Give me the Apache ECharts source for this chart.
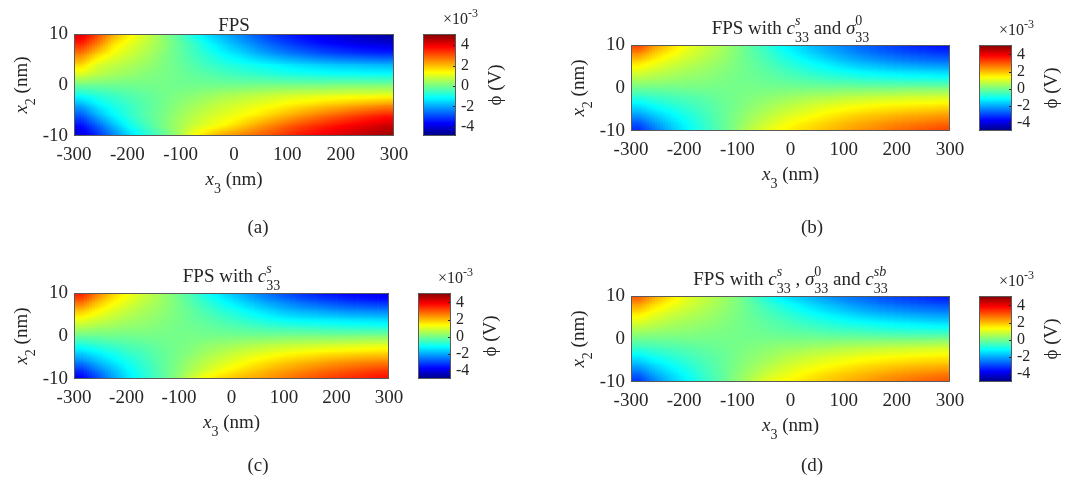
<!DOCTYPE html>
<html>
<head>
<meta charset="utf-8">
<script src="https://cdn.jsdelivr.net/npm/echarts@6/dist/echarts.min.js"></script>
<style>
  html, body { margin: 0; padding: 0; background: #ffffff; }
  #chart { width: 1069px; height: 491px; }
</style>
</head>
<body>
<div id="chart"></div>
<script>
// Sample columns along x3 (nm), 30 nm apart
const X3_CENTERS = [-285, -255, -225, -195, -165, -135, -105, -75, -45, -15,
                    15, 45, 75, 105, 135, 165, 195, 225, 255, 285];
// Sample rows along x2 (nm), top to bottom
const X2_NODES = [10, 8, 6, 4, 2, 0, -2, -4, -6, -8, -10];

const X3_TICKS = [-300, -200, -100, 0, 100, 200, 300];
const X2_TICKS = [-10, 0, 10];
const CBAR_TICKS = [-4, -2, 0, 2, 4];
const PHI_MIN = -4.9;   // colour axis limits, x 1e-3 V
const PHI_MAX = 5.1;

// phi (x 1e-3 V); one row per X2_NODES entry, one value per X3_CENTERS entry
const PHI_FPS = [
  [4.2, 3.2, 2.2, 1.5, 0.9, 0.3, -0.3, -1.0, -1.6, -2.0, -2.4, -2.8, -3.2, -3.45, -3.7, -3.9, -4.1, -4.3, -4.45, -4.65],
  [3.5, 2.6, 1.6, 1.1, 0.75, 0.35, -0.15, -0.6, -1.15, -1.6, -2.0, -2.4, -2.75, -3.05, -3.3, -3.5, -3.65, -3.8, -3.9, -4.0],
  [2.6, 1.75, 1.2, 0.85, 0.55, 0.2, -0.15, -0.5, -0.85, -1.2, -1.5, -1.85, -2.15, -2.4, -2.6, -2.8, -2.95, -3.05, -3.15, -3.2],
  [1.75, 1.0, 0.75, 0.55, 0.35, 0.1, -0.1, -0.35, -0.6, -0.8, -0.95, -1.1, -1.25, -1.4, -1.55, -1.65, -1.75, -1.8, -1.85, -1.9],
  [0.95, 0.65, 0.45, 0.3, 0.15, 0.05, -0.05, -0.2, -0.3, -0.45, -0.55, -0.65, -0.75, -0.85, -0.9, -0.95, -1.0, -1.0, -1.05, -1.05],
  [-0.05, -0.05, -0.05, -0.05, 0.0, 0.0, -0.05, -0.05, -0.05, -0.05, -0.05, 0.0, 0.0, 0.0, 0.0, 0.0, 0.05, 0.05, 0.05, 0.05],
  [-1.0, -0.75, -0.55, -0.35, -0.2, -0.05, 0.1, 0.2, 0.35, 0.5, 0.6, 0.7, 0.8, 0.9, 0.95, 1.0, 1.05, 1.1, 1.1, 1.15],
  [-1.95, -1.3, -0.9, -0.6, -0.3, -0.05, 0.2, 0.45, 0.65, 0.85, 1.0, 1.15, 1.3, 1.5, 1.65, 1.85, 2.0, 2.15, 2.3, 2.45],
  [-2.8, -1.9, -1.2, -0.7, -0.3, 0.0, 0.35, 0.65, 0.9, 1.1, 1.3, 1.55, 1.85, 2.15, 2.45, 2.7, 2.95, 3.2, 3.4, 3.6],
  [-3.55, -2.7, -1.8, -1.05, -0.5, 0.0, 0.45, 0.85, 1.15, 1.45, 1.85, 2.25, 2.6, 2.95, 3.25, 3.5, 3.75, 3.95, 4.15, 4.35],
  [-4.0, -3.3, -2.4, -1.55, -0.9, -0.3, 0.4, 1.3, 1.9, 2.35, 2.6, 2.9, 3.2, 3.55, 3.8, 4.0, 4.2, 4.4, 4.6, 4.8]
];
const PHI_CS_SIGMA = [
  [3.3, 2.4, 1.8, 1.2, 0.9, 0.6, 0.2, -0.25, -0.7, -1.2, -1.5, -1.9, -2.15, -2.4, -2.7, -2.9, -3.1, -3.3, -3.45, -3.6],
  [2.5, 1.85, 1.4, 1.05, 0.75, 0.5, 0.15, -0.2, -0.55, -0.95, -1.3, -1.6, -1.9, -2.15, -2.4, -2.6, -2.75, -2.9, -3.0, -3.1],
  [1.7, 1.3, 1.0, 0.75, 0.55, 0.35, 0.1, -0.15, -0.4, -0.7, -0.95, -1.2, -1.45, -1.7, -1.9, -2.05, -2.2, -2.3, -2.4, -2.45],
  [1.1, 0.85, 0.65, 0.5, 0.35, 0.2, 0.05, -0.1, -0.25, -0.45, -0.65, -0.85, -1.0, -1.15, -1.3, -1.4, -1.5, -1.55, -1.6, -1.65],
  [0.55, 0.45, 0.35, 0.25, 0.2, 0.1, 0.0, -0.05, -0.15, -0.25, -0.35, -0.45, -0.55, -0.6, -0.7, -0.75, -0.8, -0.85, -0.85, -0.9],
  [-0.05, -0.05, -0.05, 0.0, 0.0, 0.0, 0.0, 0.0, 0.0, 0.0, 0.0, 0.0, 0.0, 0.0, 0.0, 0.0, 0.0, 0.05, 0.05, 0.05],
  [-0.7, -0.55, -0.45, -0.35, -0.25, -0.1, 0.0, 0.1, 0.2, 0.3, 0.4, 0.5, 0.55, 0.65, 0.7, 0.75, 0.8, 0.85, 0.85, 0.9],
  [-1.35, -1.05, -0.8, -0.6, -0.4, -0.2, 0.0, 0.2, 0.4, 0.6, 0.75, 0.9, 1.05, 1.15, 1.25, 1.35, 1.4, 1.45, 1.5, 1.55],
  [-2.0, -1.55, -1.2, -0.85, -0.55, -0.25, 0.05, 0.35, 0.6, 0.85, 1.05, 1.25, 1.45, 1.6, 1.75, 1.85, 1.95, 2.05, 2.1, 2.2],
  [-2.75, -2.1, -1.55, -1.1, -0.7, -0.3, 0.1, 0.5, 0.85, 1.15, 1.4, 1.6, 1.8, 2.0, 2.15, 2.3, 2.45, 2.55, 2.65, 2.75],
  [-3.3, -2.55, -1.85, -1.25, -0.75, -0.35, 0.15, 0.7, 1.1, 1.4, 1.65, 1.85, 2.05, 2.25, 2.45, 2.6, 2.8, 2.95, 3.1, 3.25]
];
const PHI_CS = [
  [3.7, 2.7, 1.85, 1.3, 0.85, 0.45, 0.0, -0.5, -1.05, -1.5, -1.9, -2.3, -2.65, -3.0, -3.25, -3.45, -3.6, -3.75, -3.85, -3.95],
  [2.9, 2.05, 1.45, 1.05, 0.7, 0.4, 0.05, -0.35, -0.75, -1.15, -1.5, -1.85, -2.15, -2.4, -2.65, -2.85, -3.0, -3.15, -3.25, -3.35],
  [2.0, 1.45, 1.05, 0.75, 0.5, 0.3, 0.05, -0.2, -0.5, -0.8, -1.05, -1.35, -1.6, -1.85, -2.0, -2.1, -2.25, -2.35, -2.4, -2.45],
  [1.25, 0.95, 0.7, 0.5, 0.35, 0.2, 0.05, -0.15, -0.3, -0.5, -0.7, -0.9, -1.1, -1.25, -1.35, -1.4, -1.45, -1.5, -1.55, -1.6],
  [0.6, 0.45, 0.35, 0.25, 0.2, 0.1, 0.0, -0.05, -0.15, -0.25, -0.35, -0.45, -0.55, -0.6, -0.65, -0.7, -0.75, -0.8, -0.8, -0.85],
  [-0.1, -0.1, -0.05, -0.05, 0.0, 0.0, 0.0, 0.0, 0.0, 0.0, 0.0, 0.0, 0.0, 0.05, 0.05, 0.05, 0.05, 0.05, 0.1, 0.1],
  [-0.85, -0.65, -0.5, -0.35, -0.25, -0.1, 0.0, 0.1, 0.25, 0.35, 0.45, 0.55, 0.65, 0.7, 0.75, 0.8, 0.85, 0.9, 0.95, 1.0],
  [-1.6, -1.25, -0.95, -0.65, -0.45, -0.2, 0.0, 0.2, 0.45, 0.65, 0.85, 1.0, 1.15, 1.3, 1.4, 1.5, 1.6, 1.65, 1.7, 1.75],
  [-2.35, -1.8, -1.35, -0.95, -0.6, -0.25, 0.05, 0.4, 0.7, 0.95, 1.2, 1.45, 1.65, 1.85, 2.0, 2.15, 2.3, 2.4, 2.5, 2.55],
  [-3.2, -2.45, -1.8, -1.2, -0.75, -0.3, 0.1, 0.55, 0.95, 1.3, 1.6, 1.85, 2.1, 2.3, 2.5, 2.7, 2.85, 3.0, 3.15, 3.3],
  [-3.85, -3.0, -2.1, -1.35, -0.8, -0.35, 0.2, 0.9, 1.5, 1.8, 2.05, 2.25, 2.45, 2.7, 2.95, 3.15, 3.35, 3.5, 3.65, 3.8]
];
const PHI_CS_SIGMA_CSB = [
  [3.1, 2.25, 1.65, 1.15, 0.8, 0.5, 0.15, -0.35, -0.9, -1.4, -1.7, -2.0, -2.25, -2.5, -2.7, -2.9, -3.05, -3.2, -3.35, -3.5],
  [2.3, 1.7, 1.3, 0.95, 0.7, 0.45, 0.15, -0.2, -0.6, -0.95, -1.25, -1.55, -1.8, -2.05, -2.25, -2.45, -2.6, -2.7, -2.8, -2.9],
  [1.6, 1.2, 0.9, 0.7, 0.5, 0.3, 0.1, -0.15, -0.4, -0.65, -0.9, -1.15, -1.35, -1.55, -1.75, -1.9, -2.0, -2.1, -2.2, -2.25],
  [1.05, 0.8, 0.6, 0.45, 0.35, 0.2, 0.05, -0.1, -0.25, -0.4, -0.6, -0.75, -0.9, -1.05, -1.15, -1.25, -1.35, -1.4, -1.5, -1.55],
  [0.5, 0.4, 0.3, 0.25, 0.15, 0.1, 0.0, -0.05, -0.15, -0.25, -0.3, -0.4, -0.5, -0.55, -0.6, -0.7, -0.75, -0.8, -0.8, -0.85],
  [-0.05, -0.05, -0.05, 0.0, 0.0, 0.0, 0.0, 0.0, 0.0, 0.0, 0.0, 0.0, 0.0, 0.0, 0.0, 0.0, 0.0, 0.0, 0.0, 0.05],
  [-0.6, -0.5, -0.4, -0.3, -0.2, -0.1, 0.0, 0.1, 0.2, 0.3, 0.35, 0.45, 0.5, 0.6, 0.65, 0.7, 0.75, 0.8, 0.85, 0.9],
  [-1.25, -0.95, -0.75, -0.55, -0.35, -0.2, 0.0, 0.2, 0.35, 0.55, 0.7, 0.85, 0.95, 1.05, 1.15, 1.25, 1.3, 1.35, 1.4, 1.45],
  [-1.9, -1.45, -1.1, -0.8, -0.5, -0.25, 0.05, 0.3, 0.55, 0.8, 1.0, 1.15, 1.3, 1.45, 1.6, 1.7, 1.8, 1.9, 1.95, 2.0],
  [-2.6, -1.95, -1.45, -1.05, -0.65, -0.3, 0.1, 0.45, 0.8, 1.05, 1.3, 1.5, 1.7, 1.85, 2.0, 2.15, 2.3, 2.4, 2.5, 2.6],
  [-3.2, -2.4, -1.75, -1.25, -0.75, -0.35, 0.15, 0.65, 1.1, 1.35, 1.55, 1.75, 1.95, 2.15, 2.3, 2.5, 2.65, 2.8, 2.95, 3.05]
];

// jet colour map, evenly spaced stops
const JET = ['#00007f', '#0000ff', '#007fff', '#00ffff', '#7fff7f',
             '#ffff00', '#ff7f00', '#ff0000', '#7f0000'];

const FONT = '"Liberation Serif", "Times New Roman", serif';
const INK = '#262626';
const BOX = '#5a5a5a';
const SHADE_STEPS = 6;   // sub-strips per cell for interpolated shading

// panel boxes in pixels: plot area and colour bar
const PANELS = [
  { phi: PHI_FPS, plot: [74, 34, 320, 102], cbar: [423, 34, 33, 102], tag: '(a)', tagPos: [258, 228],
    title: [{ t: 'FPS' }], titleBase: 32 },
  { phi: PHI_CS_SIGMA, plot: [631, 45, 319, 86], cbar: [979, 45, 33, 86], tag: '(b)', tagPos: [812, 228],
    title: [{ t: 'FPS with ' }, { t: 'c', it: true }, { sup: 's', supIt: true, sub: '33' },
            { t: ' and ' }, { t: 'σ', it: true }, { sup: '0', sub: '33' }], titleBase: 35 },
  { phi: PHI_CS, plot: [74, 293, 315, 86], cbar: [418, 293, 33, 86], tag: '(c)', tagPos: [258, 466],
    title: [{ t: 'FPS with ' }, { t: 'c', it: true }, { sup: 's', supIt: true, sub: '33' }], titleBase: 283 },
  { phi: PHI_CS_SIGMA_CSB, plot: [631, 296, 319, 86], cbar: [979, 296, 33, 86], tag: '(d)', tagPos: [812, 466],
    title: [{ t: 'FPS with ' }, { t: 'c', it: true }, { sup: 's', supIt: true, sub: '33' }, { t: ' , ' },
            { t: 'σ', it: true }, { sup: '0', sub: '33' }, { t: ' and ' },
            { t: 'c', it: true }, { sup: 'sb', supIt: true, sub: '33' }], titleBase: 286 }
];

function phiColor(v) {
  const t = Math.min(1, Math.max(0, (v - PHI_MIN) / (PHI_MAX - PHI_MIN)));
  return echarts.color.lerp(t, JET);
}

// text measuring for the hand-built math labels
const measureCtx = document.createElement('canvas').getContext('2d');
function textWidth(s, size, italic) {
  measureCtx.font = (italic ? 'italic ' : '') + size + 'px ' + FONT;
  return measureCtx.measureText(s).width;
}

// label with stacked super/subscripts; (x, y) is the baseline anchor
function mathLabel(parts, x, y, opts) {
  const size = opts.size || 19;
  const small = opts.small || 14;
  const items = [];
  let pos = 0;
  parts.forEach(p => {
    if (p.sup !== undefined || p.sub !== undefined) {
      let w = 0;
      if (p.sup !== undefined) {
        items.push({ t: p.sup, x: pos, dy: -0.47 * size, size: small, it: !!p.supIt });
        w = Math.max(w, textWidth(p.sup, small, !!p.supIt));
      }
      if (p.sub !== undefined) {
        items.push({ t: p.sub, x: pos, dy: 0.4 * size, size: small, it: false });
        w = Math.max(w, textWidth(p.sub, small, false));
      }
      pos += w;
    } else {
      items.push({ t: p.t, x: pos, dy: 0, size: size, it: !!p.it });
      pos += textWidth(p.t, size, !!p.it);
    }
  });
  const shift = opts.anchor === 'left' ? 0 : -pos / 2;
  return {
    type: 'group', x: x, y: y, rotation: opts.rotation || 0, z: 100,
    children: items.map(it => ({
      type: 'text', x: it.x + shift, y: it.dy - 0.33 * it.size, silent: true,
      style: { text: it.t, fontSize: it.size, fontFamily: FONT, fontStyle: it.it ? 'italic' : 'normal',
               fill: INK, align: 'left', verticalAlign: 'middle' }
    }))
  };
}

const grids = [], xAxes = [], yAxes = [], series = [], graphics = [];
const nCols = X3_CENTERS.length;

PANELS.forEach((p) => {
  const [pl, pt, pw, ph] = p.plot;
  const [cl, ct, cw, chh] = p.cbar;
  const gi = grids.length;
  grids.push({ left: pl, top: pt, width: pw, height: ph, containLabel: false });
  grids.push({ left: cl, top: ct, width: cw, height: chh, containLabel: false });

  xAxes.push({
    type: 'value', gridIndex: gi, min: X3_TICKS[0], max: X3_TICKS[X3_TICKS.length - 1], interval: 100,
    axisLine: { show: false }, axisTick: { show: false }, splitLine: { show: false },
    axisLabel: { fontFamily: FONT, fontSize: 19, color: INK, margin: 10 }
  });
  yAxes.push({
    type: 'value', gridIndex: gi, min: X2_TICKS[0], max: X2_TICKS[X2_TICKS.length - 1], interval: 10,
    axisLine: { show: false }, axisTick: { show: false }, splitLine: { show: false },
    axisLabel: { fontFamily: FONT, fontSize: 19, color: INK, margin: 6 }
  });
  xAxes.push({ type: 'value', gridIndex: gi + 1, min: 0, max: 1, show: false });
  yAxes.push({
    type: 'value', gridIndex: gi + 1, min: PHI_MIN, max: PHI_MAX, position: 'right',
    axisLine: { show: false }, splitLine: { show: false }, axisTick: { show: false },
    axisLabel: { customValues: CBAR_TICKS, fontFamily: FONT, fontSize: 16, color: INK, margin: 5, align: 'left' }
  });

  // potential field: one cell between each pair of neighbouring samples,
  // edge cells hold the outermost column up to the plot border
  const cells = [];
  for (let j = 0; j < X2_NODES.length - 1; j++) {
    for (let i = -1; i < nCols; i++) {
      const li = Math.max(i, 0), ri = Math.min(i + 1, nCols - 1);
      const xL = i < 0 ? X3_TICKS[0] : X3_CENTERS[i];
      const xR = i + 1 > nCols - 1 ? X3_TICKS[X3_TICKS.length - 1] : X3_CENTERS[i + 1];
      cells.push([xL, xR, X2_NODES[j], X2_NODES[j + 1],
                  p.phi[j][li], p.phi[j][ri], p.phi[j + 1][li], p.phi[j + 1][ri]]);
    }
  }
  series.push({
    type: 'custom', xAxisIndex: gi, yAxisIndex: gi, data: cells, clip: true, silent: true,
    renderItem: (params, api) => {
      const xL = api.value(0), xR = api.value(1), yT = api.value(2), yB = api.value(3);
      const tl = api.value(4), tr = api.value(5), bl = api.value(6), br = api.value(7);
      const a = api.coord([xL, yT]);
      const b = api.coord([xR, yB]);
      const w = (b[0] - a[0]) / SHADE_STEPS;
      const children = [];
      for (let s = 0; s < SHADE_STEPS; s++) {
        const f = (s + 0.5) / SHADE_STEPS;
        const top = tl + (tr - tl) * f;
        const bot = bl + (br - bl) * f;
        const stops = [0, 0.25, 0.5, 0.75, 1].map(g => ({ offset: g, color: phiColor(top + (bot - top) * g) }));
        children.push({
          type: 'rect',
          shape: { x: a[0] + s * w - 0.35, y: a[1] - 0.35, width: w + 0.7, height: b[1] - a[1] + 0.7 },
          style: { fill: new echarts.graphic.LinearGradient(0, 0, 0, 1, stops) }
        });
      }
      return { type: 'group', children: children };
    }
  });

  // colour bar with inward ticks on its right edge
  series.push({
    type: 'custom', xAxisIndex: gi + 1, yAxisIndex: gi + 1, data: [[0, PHI_MIN, 1, PHI_MAX]], silent: true,
    renderItem: (params, api) => {
      const a = api.coord([api.value(0), api.value(3)]);
      const b = api.coord([api.value(2), api.value(1)]);
      const stops = JET.map((c, n) => ({ offset: 1 - n / (JET.length - 1), color: c }));
      const children = [{
        type: 'rect', shape: { x: a[0], y: a[1], width: b[0] - a[0], height: b[1] - a[1] },
        style: { fill: new echarts.graphic.LinearGradient(0, 0, 0, 1, stops) }
      }];
      CBAR_TICKS.forEach(v => {
        const q = api.coord([1, v]);
        const y = Math.round(q[1]) + 0.5;
        children.push({ type: 'line', shape: { x1: q[0] - 3, y1: y, x2: q[0], y2: y },
                        style: { stroke: INK, lineWidth: 1 } });
      });
      return { type: 'group', children: children };
    }
  });

  // frames
  graphics.push({ type: 'rect', z: 90, silent: true, shape: { x: pl + 0.5, y: pt + 0.5, width: pw - 1, height: ph - 1 },
                  style: { fill: null, stroke: BOX, lineWidth: 1 } });
  graphics.push({ type: 'rect', z: 90, silent: true, shape: { x: cl + 0.5, y: ct + 0.5, width: cw - 1, height: chh - 1 },
                  style: { fill: null, stroke: BOX, lineWidth: 1 } });

  // title, axis names, colour bar labels, panel tag
  graphics.push(mathLabel(p.title, pl + pw / 2, p.titleBase, { size: 19, small: 14 }));
  graphics.push(mathLabel([{ t: 'x', it: true }, { sub: '3' }, { t: ' (nm)' }], pl + pw / 2, pt + ph + 50, { size: 19, small: 14 }));
  graphics.push(mathLabel([{ t: 'x', it: true }, { sub: '2' }, { t: ' (nm)' }], pl - 46, pt + ph / 2, { size: 19, small: 14, rotation: Math.PI / 2 }));
  graphics.push(mathLabel([{ t: 'ϕ' }, { t: ' (V)' }], cl + cw + 46, ct + chh / 2, { size: 19, small: 14, rotation: Math.PI / 2 }));
  graphics.push(mathLabel([{ t: '×10' }, { sup: '-3' }], cl + 20, ct - 9, { size: 16, small: 12, anchor: 'left' }));
  graphics.push({
    type: 'text', z: 100, silent: true, x: p.tagPos[0], y: p.tagPos[1],
    style: { text: p.tag, fontSize: 19, fontFamily: FONT, fill: INK, align: 'center', verticalAlign: 'middle' }
  });
});

const chart = echarts.init(document.getElementById('chart'), null, { renderer: 'canvas' });
chart.setOption({
  animation: false,
  backgroundColor: '#ffffff',
  grid: grids,
  xAxis: xAxes,
  yAxis: yAxes,
  series: series,
  graphic: { elements: graphics }
});
</script>
</body>
</html>
